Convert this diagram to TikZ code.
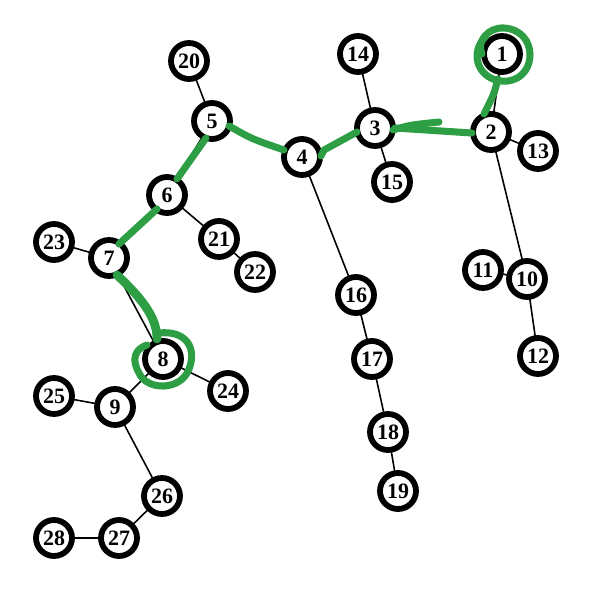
\documentclass[tikz,border=0pt]{standalone}
\usepackage{fontspec}
\setmainfont{Liberation Serif}
\usepackage{tikz}
\usetikzlibrary{positioning,calc}
\usepackage{xcolor}
\definecolor{pathgreen}{HTML}{2E9E44}

\begin{document}
\begin{tikzpicture}[
  x=0.02cm, y=-0.02cm,
  vertex/.style={draw, circle, line width=3.3pt, fill=white, minimum size=0.72cm, inner sep=0pt, font=\fontsize{12.5}{14}\selectfont\bfseries},
  edge/.style={line width=0.9pt},
  hl/.style={pathgreen, line width=4pt, line cap=round, line join=round},
]
\useasboundingbox (0,0) rectangle (592,592);

% Edges first, vertices drawn on top
\coordinate (c1) at (502,54);   \coordinate (c2) at (491,132);
\coordinate (c3) at (375,128);  \coordinate (c4) at (302,157);
\coordinate (c5) at (212,121);  \coordinate (c6) at (167,195);
\coordinate (c7) at (109,258);  \coordinate (c8) at (163,359);
\coordinate (c9) at (115,407);  \coordinate (c10) at (527,279);
\coordinate (c11) at (483,270); \coordinate (c12) at (538,356);
\coordinate (c13) at (538,151); \coordinate (c14) at (358,54);
\coordinate (c15) at (392,182); \coordinate (c16) at (356,295);
\coordinate (c17) at (372,359); \coordinate (c18) at (388,432);
\coordinate (c19) at (398,491); \coordinate (c20) at (189,61);
\coordinate (c21) at (219,239); \coordinate (c22) at (255,272);
\coordinate (c23) at (54,242);  \coordinate (c24) at (228,391);
\coordinate (c25) at (54,396);  \coordinate (c26) at (162,496);
\coordinate (c27) at (119,538); \coordinate (c28) at (54,538);

\draw[edge] (c1) -- (c2) -- (c3) -- (c4) -- (c5) -- (c6) -- (c7) -- (c8) -- (c9) -- (c26) -- (c27) -- (c28);
\draw[edge] (c2) -- (c13);
\draw[edge] (c2) -- (c10) -- (c12);
\draw[edge] (c10) -- (c11);
\draw[edge] (c14) -- (c3) -- (c15);
\draw[edge] (c4) -- (c16) -- (c17) -- (c18) -- (c19);
\draw[edge] (c20) -- (c5);
\draw[edge] (c6) -- (c21) -- (c22);
\draw[edge] (c23) -- (c7);
\draw[edge] (c8) -- (c24);
\draw[edge] (c25) -- (c9);

% Vertices
\node[vertex] (n1) at (c1) {1};
\node[vertex] (n2) at (c2) {2};
\node[vertex] (n3) at (c3) {3};
\node[vertex] (n4) at (c4) {4};
\node[vertex] (n5) at (c5) {5};
\node[vertex] (n6) at (c6) {6};
\node[vertex] (n7) at (c7) {7};
\node[vertex] (n8) at (c8) {8};
\node[vertex] (n9) at (c9) {9};
\node[vertex] (n10) at (c10) {10};
\node[vertex] (n11) at (c11) {11};
\node[vertex] (n12) at (c12) {12};
\node[vertex] (n13) at (c13) {13};
\node[vertex] (n14) at (c14) {14};
\node[vertex] (n15) at (c15) {15};
\node[vertex] (n16) at (c16) {16};
\node[vertex] (n17) at (c17) {17};
\node[vertex] (n18) at (c18) {18};
\node[vertex] (n19) at (c19) {19};
\node[vertex] (n20) at (c20) {20};
\node[vertex] (n21) at (c21) {21};
\node[vertex] (n22) at (c22) {22};
\node[vertex] (n23) at (c23) {23};
\node[vertex] (n24) at (c24) {24};
\node[vertex] (n25) at (c25) {25};
\node[vertex] (n26) at (c26) {26};
\node[vertex] (n27) at (c27) {27};
\node[vertex] (n28) at (c28) {28};

% Highlighted path, hand drawn
\draw[hl] ($(n1)+(-16,-18)$) .. controls ($(n1)+(-36,2)$) and ($(n1)+(-20,30)$) .. ($(n1)+(6,27)$)
          .. controls ($(n1)+(36,23)$) and ($(n1)+(36,-24)$) .. ($(n1)+(2,-26)$)
          .. controls ($(n1)+(-14,-27)$) and ($(n1)+(-26,-12)$) .. ($(n1)+(-20,0)$);
\draw[hl] ($(n1)+(-4,25)$) .. controls ($(n1)+(-8,40)$) .. ($(n2)+(-7,-18)$);
\draw[hl] ($(n2)+(-19,1)$) -- ($(n3)+(20,0)$);
\draw[hl] ($(n3)+(18,2)$) .. controls ($(n3)+(35,-3)$) .. ($(n3)+(64,-6)$);
\draw[hl] ($(n3)+(-18,4)$) -- ($(n4)+(22,-7)$) -- ($(n4)+(19,-1)$);
\draw[hl] ($(n5)+(17,5)$) .. controls ($(n5)+(40,18)$) .. ($(n4)+(-18,-7)$);
\draw[hl] ($(n5)+(-6,17)$) -- ($(n6)+(10,-16)$);
\draw[hl] ($(n6)+(-10,14)$) -- ($(n7)+(10,-14)$);
\draw[hl, line width=5pt] ($(n7)+(8,17)$) .. controls ($(n7)+(38,45)$) and ($(n8)+(-6,-38)$) .. ($(n8)+(-6,-20)$);
\draw[hl] ($(n8)+(-4,-26)$) .. controls ($(n8)+(24,-29)$) and ($(n8)+(34,-10)$) .. ($(n8)+(26,10)$)
          .. controls ($(n8)+(18,32)$) and ($(n8)+(-16,32)$) .. ($(n8)+(-24,14)$)
          .. controls ($(n8)+(-32,0)$) and ($(n8)+(-28,-10)$) .. ($(n8)+(-16,-14)$);
\end{tikzpicture}
\end{document}
